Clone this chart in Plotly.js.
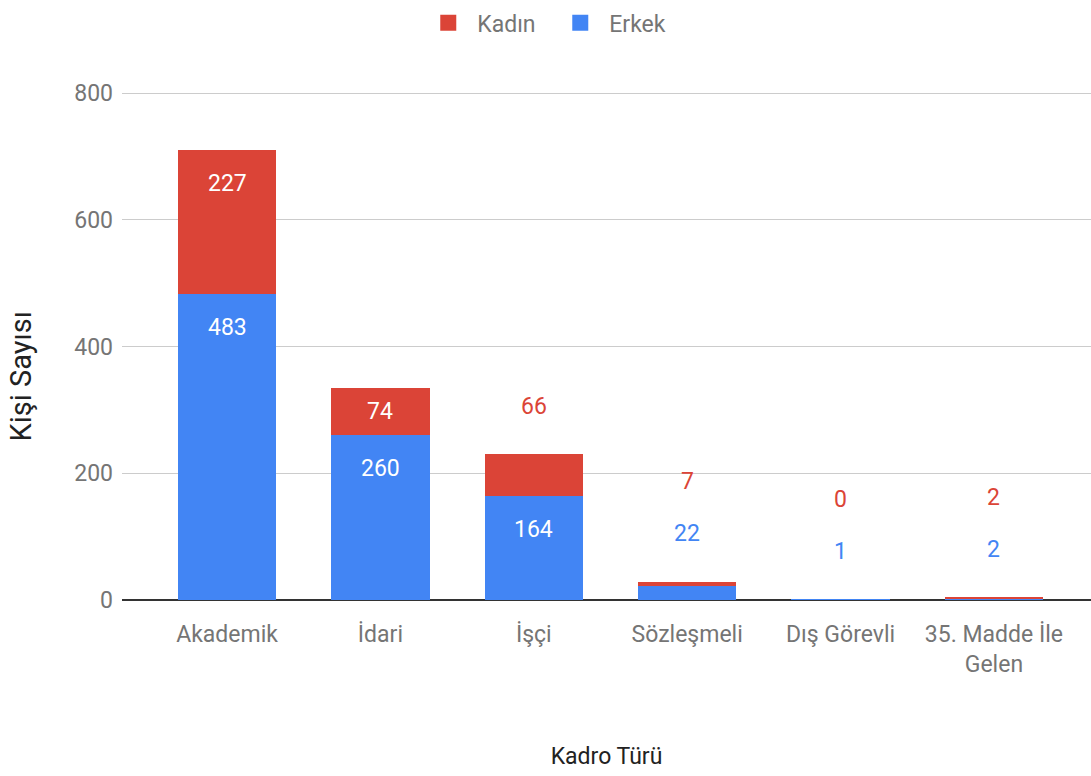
<!DOCTYPE html>
<html>
<head>
<meta charset="utf-8">
<script src="https://cdn.plot.ly/plotly-3.0.1.min.js"></script>
<style>html,body{margin:0;padding:0;background:#fff;}#chart{width:1091px;height:776px;}</style>
</head>
<body>
<div id="chart"></div>
<script>
const categories = ['Akademik', 'İdari', 'İşçi', 'Sözleşmeli', 'Dış Görevli', '35. Madde İle<br>Gelen'];
const erkek = [483, 260, 164, 22, 1, 2];
const kadin = [227, 74, 66, 7, 0, 2];
const seriesNames = ['Erkek', 'Kadın'];
const seriesColors = ['#4285F4', '#DB4437'];
const yTicks = [0, 200, 400, 600, 800];
const xTitle = 'Kadro Türü';
const yTitle = 'Kişi Sayısı';

const W = 1091, H = 776;
const M = {l: 122, r: 0, t: 92, b: 176};
const yMax = 802;
const plotH = H - M.t - M.b;
const pxPerUnit = plotH / yMax;
const FONT = 'Roboto, "Open Sans", sans-serif';

const seriesVals = [erkek, kadin];

const traces = seriesVals.map((vals, s) => ({
  type: 'bar',
  name: seriesNames[s],
  x: categories,
  y: vals,
  marker: {color: seriesColors[s]},
  showlegend: false,
  hoverinfo: 'x+y+name'
}));

// legend entries (larger square swatches)
seriesNames.forEach((n, s) => {
  traces.push({
    type: 'scatter', mode: 'markers', name: n,
    x: [null], y: [null],
    marker: {symbol: 'square', size: 22, color: seriesColors[s]},
    showlegend: true, hoverinfo: 'skip'
  });
});

const annotations = [];
categories.forEach((c, i) => {
  let bottom = 0;
  let total = 0;
  seriesVals.forEach(v => total += v[i]);
  let k = 0;
  seriesVals.forEach((vals, s) => {
    const v = vals[i];
    const top = bottom + v;
    const hPx = v * pxPerUnit;
    if (hPx >= 45) {
      if (hPx >= 66) {
        annotations.push({x: c, y: top, yshift: -33, text: String(v), showarrow: false,
          yanchor: 'middle', font: {family: FONT, size: 23, color: '#ffffff'}});
      } else {
        annotations.push({x: c, y: bottom + v / 2, text: String(v), showarrow: false,
          yanchor: 'middle', font: {family: FONT, size: 23, color: '#ffffff'}});
      }
    } else {
      annotations.push({x: c, y: total, yshift: 48 + 52 * k, text: String(v), showarrow: false,
        yanchor: 'middle', font: {family: FONT, size: 23, color: seriesColors[s]}});
      k++;
    }
    bottom = top;
  });
});

// y-axis title (placed as a rotated annotation, slightly below the plot centre as in the source)
annotations.push({
  xref: 'paper', yref: 'paper', x: 0, y: 0.44, xshift: -101,
  xanchor: 'center', yanchor: 'middle', textangle: -90, showarrow: false,
  text: yTitle, font: {family: FONT, size: 29, color: '#222222'}
});

const layout = {
  width: W, height: H,
  margin: M,
  paper_bgcolor: '#ffffff', plot_bgcolor: '#ffffff',
  barmode: 'stack',
  bargap: 0.36,
  font: {family: FONT, size: 23, color: '#757575'},
  showlegend: true,
  legend: {
    orientation: 'h', x: 0.443, xanchor: 'center', y: 1.136, yanchor: 'middle',
    traceorder: 'reversed', itemsizing: 'trace', itemwidth: 48,
    entrywidth: 69, entrywidthmode: 'pixels',
    font: {family: FONT, size: 23, color: '#757575'}
  },
  xaxis: {
    type: 'category',
    range: [-0.685, 5.633],
    showgrid: false, showline: false, ticks: '', zeroline: false,
    ticklabelstandoff: 18,
    tickfont: {family: FONT, size: 23, color: '#757575'},
    automargin: true,
    title: {text: xTitle, standoff: 70, font: {family: FONT, size: 23, color: '#222222'}}
  },
  yaxis: {
    range: [0, yMax],
    tickvals: yTicks,
    showgrid: true, gridcolor: '#cccccc', gridwidth: 1,
    zeroline: true, zerolinecolor: '#333333', zerolinewidth: 2,
    showline: false, ticks: '',
    ticklabelstandoff: 8,
    tickfont: {family: FONT, size: 23, color: '#757575'},
    automargin: false
  },
  annotations: annotations
};

Plotly.newPlot('chart', traces, layout, {displayModeBar: false, responsive: false});
</script>
</body>
</html>
